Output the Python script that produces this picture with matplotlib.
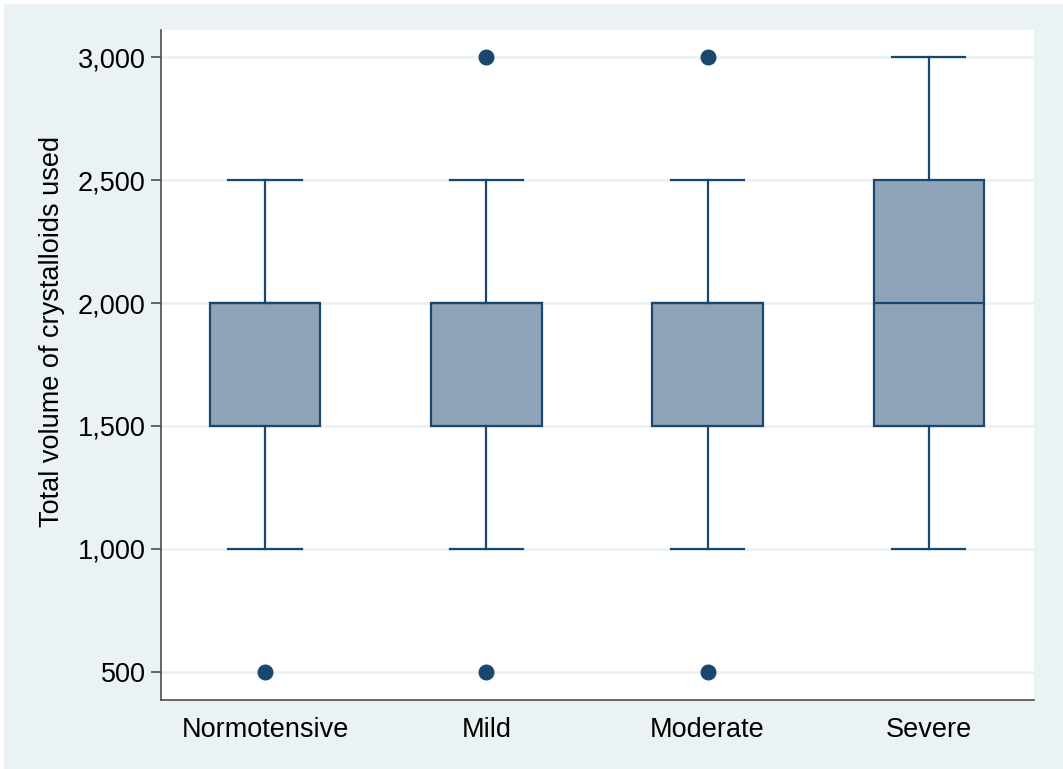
import matplotlib
matplotlib.use("Agg")
import matplotlib.pyplot as plt
from matplotlib.patches import Rectangle

# Summary statistics per hypertension group
groups = ["Normotensive", "Mild", "Moderate", "Severe"]
whisker_low = [1000, 1000, 1000, 1000]
q1 = [1500, 1500, 1500, 1500]
median = [2000, 2000, 2000, 2000]
q3 = [2000, 2000, 2000, 2500]
whisker_high = [2500, 2500, 2500, 3000]
outliers = [[500], [3000, 500], [3000, 500], []]

y_ticks = [500, 1000, 1500, 2000, 2500, 3000]
y_label = "Total volume of crystalloids used"

BG = "#EAF2F3"
NAVY = "#1A476F"
FILL = "#8EA3B7"

plt.rcParams["font.family"] = ["Liberation Sans", "DejaVu Sans"]

fig = plt.figure(figsize=(10.63, 7.69), dpi=100, facecolor="white")
fig.patches.append(Rectangle((4 / 1063, 0), 1 - 4 / 1063, 765 / 769,
                             transform=fig.transFigure, facecolor=BG,
                             edgecolor="none", zorder=-10))

ax = fig.add_axes([161 / 1063, 69 / 769, 873 / 1063, 670 / 769])
ax.set_zorder(1)
ax.set_facecolor("white")

stats = []
for i, name in enumerate(groups):
    stats.append(dict(label=name, whislo=whisker_low[i], q1=q1[i],
                      med=median[i], q3=q3[i], whishi=whisker_high[i],
                      fliers=outliers[i]))

positions = list(range(1, len(groups) + 1))
ax.bxp(stats, positions=positions, widths=0.5, capwidths=0.33,
       patch_artist=True, showfliers=True,
       boxprops=dict(facecolor=FILL, edgecolor=NAVY, linewidth=1.6),
       medianprops=dict(color=NAVY, linewidth=1.6),
       whiskerprops=dict(color=NAVY, linewidth=1.6),
       capprops=dict(color=NAVY, linewidth=1.6),
       flierprops=dict(marker="o", markerfacecolor=NAVY,
                       markeredgecolor=NAVY, markersize=10.5,
                       linestyle="none"))

ax.set_xlim(0.53, 4.475)
ax.set_ylim(386, 3110)
ax.set_yticks(y_ticks)
ax.set_yticklabels([f"{v:,}" for v in y_ticks])
ax.set_xticks(positions)
ax.set_xticklabels(groups)

ax.yaxis.grid(True, color=BG, linewidth=2)
ax.set_axisbelow(True)

for side in ("top", "right"):
    ax.spines[side].set_visible(False)
for side in ("left", "bottom"):
    ax.spines[side].set_color("#4D4D4D")
    ax.spines[side].set_linewidth(1.2)

ax.tick_params(axis="y", direction="out", length=7, width=1.2,
               color="#4D4D4D", pad=4, labelsize=19.5, labelcolor="black")
ax.tick_params(axis="x", length=0, pad=12, labelsize=19.5,
               labelcolor="black")

ax.set_ylabel(y_label, fontsize=19.5, color="black")
ax.yaxis.label.set_va("center")
ax.yaxis.set_label_coords((52 - 161) / 873, (700 - 331.5) / 670)

fig.savefig("out.png", dpi=100, facecolor=fig.get_facecolor())
